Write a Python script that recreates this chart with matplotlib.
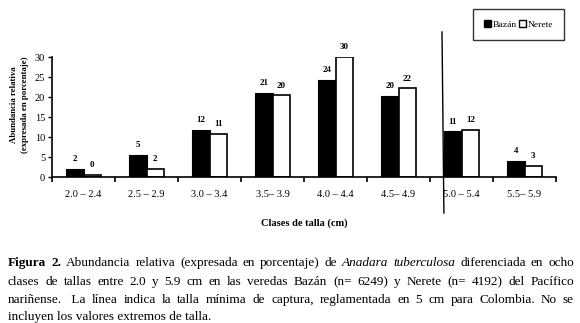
import matplotlib
matplotlib.use("Agg")
import matplotlib.pyplot as plt
import numpy as np
from matplotlib.patches import Patch

plt.rcParams['font.family'] = ['Liberation Serif', 'DejaVu Serif']

# --- data ---
classes = ["2.0 – 2.4", "2.5 – 2.9", "3.0 – 3.4", "3.5– 3.9",
           "4.0 – 4.4", "4.5– 4.9", "5.0 – 5.4", "5.5– 5.9"]
bazan = [2.0, 5.5, 11.8, 21.0, 24.3, 20.3, 11.4, 4.0]
nerete = [0.5, 2.0, 10.8, 20.4, 30.0, 22.2, 11.8, 2.8]
bazan_labels = ["2", "5", "12", "21", "24", "20", "11", "4"]
nerete_labels = ["0", "2", "11", "20", "30", "22", "12", "3"]
min_size_line = (5.69, 5.72)   # x of the minimum-size line (top, bottom)

caption = [
    [("Figura", "bold"), ("2.", "bold"), "Abundancia", "relativa", "(expresada", "en",
     "porcentaje)", "de", ("Anadara", "italic"), ("tuberculosa", "italic"),
     "diferenciada", "en", "ocho"],
    ["clases", "de", "tallas", "entre", "2.0", "y", "5.9", "cm", "en", "las", "veredas",
     "Bazán", "(n=", "6249)", "y", "Nerete", "(n=", "4192)", "del", "Pacífico"],
    ["nariñense.", " La", "línea", "indica", "la", "talla", "mínima", "de", "captura,",
     "reglamentada", "en", "5", "cm", "para", "Colombia.", "No", "se"],
]
caption_last = "incluyen los valores extremos de talla."

fig = plt.figure(figsize=(5.8, 3.23), dpi=100)
ax = fig.add_axes([0.0897, 0.452, 0.869, 0.3715])

x = np.arange(len(classes))
w = 0.28
ax.bar(x - w / 2, bazan, w, color="black", edgecolor="black", linewidth=0.8)
ax.bar(x + w / 2, nerete, w, color="white", edgecolor="black", linewidth=1.2)

for i in range(len(classes)):
    ax.annotate(bazan_labels[i], (x[i] - w / 2, bazan[i]), xytext=(0, 4),
                textcoords="offset points", ha="center", va="bottom",
                fontsize=6.5, fontweight="bold")
    ax.annotate(nerete_labels[i], (x[i] + w / 2, nerete[i]), xytext=(0, 4),
                textcoords="offset points", ha="center", va="bottom",
                fontsize=6.5, fontweight="bold")

ax.set_xlim(-0.5, len(classes) - 0.5)
ax.set_ylim(0, 30)
ax.set_yticks(range(0, 31, 5))
ax.set_xticks(x)
ax.set_xticklabels(classes, fontsize=7.5)
ax.set_xticks(np.arange(-0.5, len(classes), 1), minor=True)
ax.tick_params(axis="x", which="major", length=0, pad=9)
ax.tick_params(axis="x", which="minor", length=3.5, width=1.2, direction="out")
ax.tick_params(axis="y", labelsize=7.5, length=3, width=1, pad=2)
for s in ["top", "right"]:
    ax.spines[s].set_visible(False)
ax.spines["left"].set_linewidth(1.2)
ax.spines["bottom"].set_linewidth(1.2)

ax.set_ylabel("Abundancia relativa\n(expresada en porcentaje)", fontsize=6.3,
              fontweight="bold", linespacing=1.5)
ax.yaxis.set_label_coords(-0.046, 0.6)
ax.set_xlabel("Clases de talla (cm)", fontsize=7.5, fontweight="bold", labelpad=14)

# minimum capture size line
ax.plot(min_size_line, [36.25, -9], color="black", lw=1.0, clip_on=False)

leg = fig.legend(handles=[Patch(facecolor="black", edgecolor="black", label="Bazán"),
                          Patch(facecolor="white", edgecolor="black", label="Nerete")],
                 loc="upper right", bbox_to_anchor=(0.973, 0.972), ncol=2,
                 fontsize=6.8, frameon=True, fancybox=False, handlelength=0.75,
                 handleheight=0.8, handletextpad=0.2, columnspacing=0.2,
                 borderpad=1.15, borderaxespad=0)
leg.get_frame().set_edgecolor("black")
leg.get_frame().set_linewidth(1.0)

# justified caption
renderer = fig.canvas.get_renderer()
left, right = 8 / 580, 574 / 580
ys = [1 - 263 / 323, 1 - 282 / 323, 1 - 300 / 323]
for line, y in zip(caption, ys):
    texts = []
    for word in line:
        if isinstance(word, tuple):
            word, style = word
        else:
            style = "normal"
        kw = {"fontweight": "bold"} if style == "bold" else {}
        if style == "italic":
            kw = {"fontstyle": "italic"}
        texts.append(fig.text(0, y, word, fontsize=9.5, va="center", ha="left", **kw))
    widths = [t.get_window_extent(renderer).width / 580 for t in texts]
    gap = (right - left - sum(widths)) / (len(texts) - 1)
    pos = left
    for t, wd in zip(texts, widths):
        t.set_x(pos)
        pos += wd + gap
fig.text(left, 1 - 317 / 323, caption_last, fontsize=9.5, va="center", ha="left")

fig.savefig("out.png", dpi=100)
